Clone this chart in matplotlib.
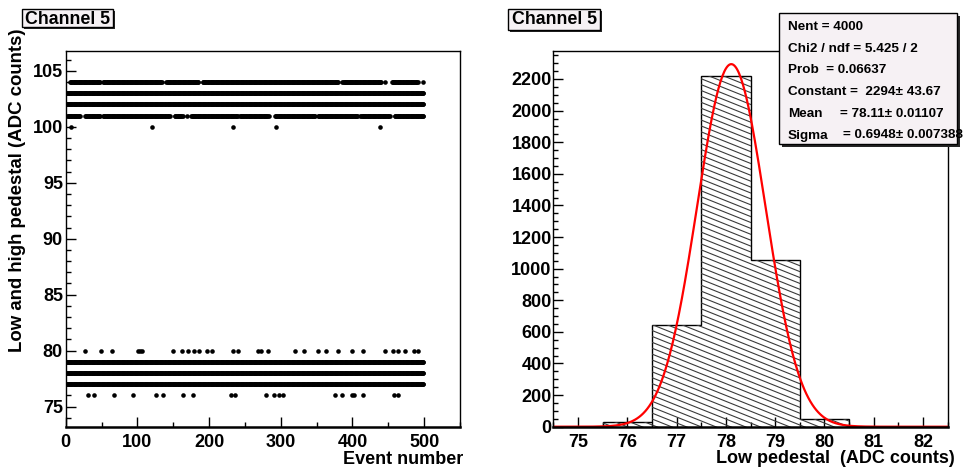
import numpy as np
import matplotlib
matplotlib.use('Agg')
import matplotlib.pyplot as plt
from matplotlib.patches import Rectangle
from matplotlib.collections import LineCollection
from matplotlib.ticker import MultipleLocator

plt.rcParams['font.family'] = ['Liberation Sans', 'DejaVu Sans']
plt.rcParams['font.weight'] = 'bold'

# ---- left panel: pedestal value per event
n_events = 500
full_rows = [77, 78, 79, 102, 103]          # value present in every event
row_101_segments = [(2, 20), (27, 48), (52, 145), (152, 163), (169, 169), (175, 240),
                    (243, 283), (292, 348), (352, 407), (411, 452), (459, 499)]
row_104_segments = [(6, 48), (52, 134), (140, 185), (191, 380), (386, 440),
                    (446, 446), (455, 491), (498, 498)]
row_76_events = [31, 40, 67, 94, 126, 136, 163, 177, 230, 236, 279, 290, 298, 303,
                 375, 385, 399, 402, 415, 458, 463]
row_80_events = [27, 49, 64, 101, 104, 106, 149, 162, 171, 179, 186, 197, 204, 234, 240,
                 268, 273, 282, 320, 333, 352, 363, 380, 400, 415, 446, 456, 464,
                 473, 486, 491]
row_100_events = [8, 120, 234, 293, 438]

# ---- right panel: low pedestal histogram + gaussian fit
bin_centers = [75, 76, 77, 78, 79, 80, 81, 82]
counts = [0, 30, 645, 2222, 1055, 48, 0, 0]
fit_const, fit_mean, fit_sigma = 2294, 78.11, 0.6948
stats_lines = ["Nent = 4000", "Chi2 / ndf = 5.425 / 2", "Prob  = 0.06637",
               "Constant =  2294\u00b1 43.67"]
stats_named = [("Mean", "= 78.11\u00b1 0.01107"), ("Sigma", "= 0.6948\u00b1 0.007388")]

W, H = 963, 473
fig = plt.figure(figsize=(W / 100, H / 100), dpi=100)


def fx(px):
    return px / W


def fy(py):
    return 1 - py / H


def draw_box(x0, y0, x1, y1, shadow=3):
    fig.add_artist(Rectangle((fx(x0 + shadow), fy(y1 + shadow)), (x1 - x0) / W, (y1 - y0) / H,
                             transform=fig.transFigure, facecolor='#262626',
                             edgecolor='none', zorder=5))
    fig.add_artist(Rectangle((fx(x0), fy(y1)), (x1 - x0) / W, (y1 - y0) / H,
                             transform=fig.transFigure, facecolor='#f6f1f4',
                             edgecolor='black', lw=1, zorder=6))


def style_axes(ax):
    for s in ax.spines.values():
        s.set_linewidth(1.0)
        s.set_color('black')
    ax.spines['bottom'].set_linewidth(1.8)
    ax.tick_params(which='both', direction='in', top=False, right=False, width=1,
                   labelsize=13)
    ax.tick_params(which='major', length=7.5)
    ax.tick_params(which='minor', length=3.8)
    ax.tick_params(axis='x', pad=5.5)
    for lab in ax.get_xticklabels() + ax.get_yticklabels():
        lab.set_fontweight('bold')


# ---------------- left
ax1 = fig.add_axes([fx(65.7), fy(426.7), (460 - 65.7) / W, (426.7 - 50.7) / H])
xs, ys = [], []
for v in full_rows:
    xs += list(range(n_events))
    ys += [v] * n_events
for v, segs in ((101, row_101_segments), (104, row_104_segments)):
    for a, b in segs:
        xs += list(range(a, b + 1))
        ys += [v] * (b - a + 1)
for v, evs in ((76, row_76_events), (80, row_80_events), (100, row_100_events)):
    xs += evs
    ys += [v] * len(evs)
ax1.plot(xs, ys, 'o', ms=3.3, mew=0, color='black')
ax1.set_xlim(0, 550)
ax1.set_ylim(73.2, 106.8)
ax1.xaxis.set_major_locator(MultipleLocator(100))
ax1.xaxis.set_minor_locator(MultipleLocator(50))
ax1.yaxis.set_major_locator(MultipleLocator(5))
ax1.yaxis.set_minor_locator(MultipleLocator(1))
style_axes(ax1)
ax1.tick_params(axis='y', pad=2)

# ---------------- right
ax2 = fig.add_axes([fx(553.3), fy(426.7), (947.7 - 553.3) / W, (426.7 - 50.7) / H])
edges = np.append(np.array(bin_centers, dtype=float) - 0.5, bin_centers[-1] + 0.5)
fill = ax2.stairs(counts, edges, fill=True, facecolor='none', edgecolor='none')
# diagonal hatching clipped to the histogram area
ax_w, ax_h = 947.7 - 553.3, 426.7 - 50.7
slope = 0.40 * ax_w / ax_h
step = 5.9 / ax_h
segs = [[(0, c), (1, c - slope)] for c in np.arange(0, 1 + slope + step, step)]
hatch = LineCollection(segs, transform=ax2.transAxes, colors='#3a3a3a', linewidths=0.8)
hatch.set_clip_path(fill)
ax2.add_collection(hatch, autolim=False)
ax2.stairs(counts, edges, color='black', lw=1.0, baseline=0)
xg = np.linspace(74.5, 82.5, 400)
ax2.plot(xg, fit_const * np.exp(-0.5 * ((xg - fit_mean) / fit_sigma) ** 2),
         color='red', lw=1.6)
ax2.set_xlim(74.5, 82.5)
ax2.set_ylim(0, 2379)
ax2.xaxis.set_major_locator(MultipleLocator(1))
ax2.xaxis.set_minor_locator(MultipleLocator(0.5))
ax2.yaxis.set_major_locator(MultipleLocator(200))
ax2.yaxis.set_minor_locator(MultipleLocator(50))
style_axes(ax2)
ax2.tick_params(axis='y', pad=1.2)

# ---------------- labels
fig.text(fx(463), fy(464), "Event number", ha='right', va='baseline',
         fontsize=13, fontweight='bold')
fig.text(fx(955), fy(463), "Low pedestal  (ADC counts)", ha='right', va='baseline',
         fontsize=13, fontweight='bold')
fig.text(fx(18), fy(28), "Low and high pedestal (ADC counts)", rotation=90,
         ha='center', va='top', fontsize=13.4, fontweight='bold')

# title boxes
draw_box(22, 9, 113, 27.5, shadow=2)
fig.text(fx(67.5), fy(23.5), "Channel 5", ha='center', va='baseline', fontsize=12.8,
         fontweight='bold', zorder=7)
draw_box(508, 9.3, 600, 30, shadow=2)
fig.text(fx(554), fy(24.5), "Channel 5", ha='center', va='baseline', fontsize=12.8,
         fontweight='bold', zorder=7)

# stats box
draw_box(779, 12.7, 956.7, 144, shadow=3)
for i, line in enumerate(stats_lines):
    fig.text(fx(788), fy(30 + 21.7 * i), line, ha='left', va='baseline',
             fontsize=9.7, fontweight='bold', zorder=7)
for j, (name, val) in enumerate(stats_named):
    yb = fy(30 + 21.7 * (len(stats_lines) + j))
    fig.text(fx(788), yb, name, ha='left', va='baseline', fontsize=9.7,
             fontweight='bold', zorder=7)
    fig.text(fx(840 + 3 * j), yb, val, ha='left', va='baseline', fontsize=9.7,
             fontweight='bold', zorder=7)

fig.savefig('out.png', dpi=100)
